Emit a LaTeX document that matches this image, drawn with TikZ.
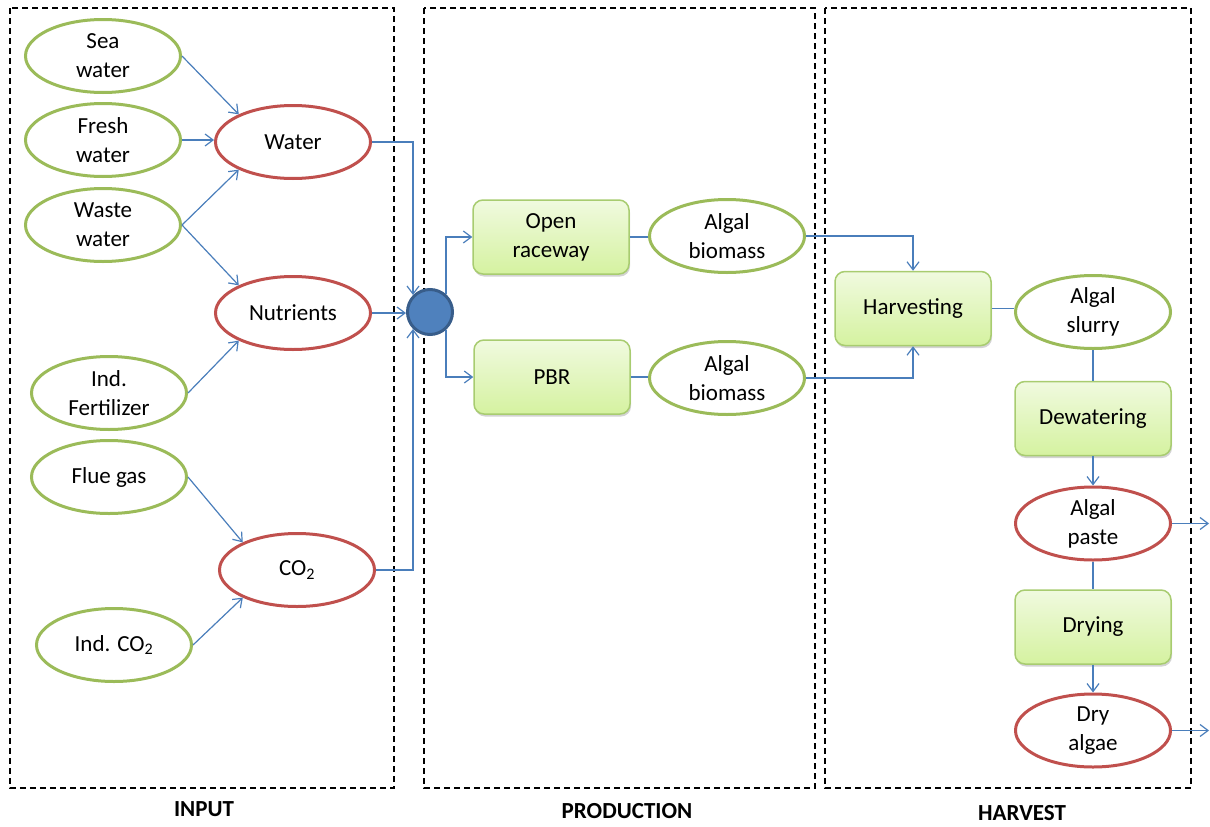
\documentclass[tikz,border=0pt]{standalone}
\usepackage{fontspec}
\setmainfont{Carlito}
\usetikzlibrary{shapes.geometric,arrows.meta,shadows}
\definecolor{grn}{HTML}{9BBB59}
\definecolor{rd}{HTML}{C0504D}
\definecolor{conn}{HTML}{4A7EBB}
\definecolor{bluefill}{HTML}{4F81BD}
\definecolor{blueedge}{HTML}{385D8A}
\definecolor{boxtop}{HTML}{F0FADF}
\definecolor{boxbot}{HTML}{D5F2A0}
\definecolor{boxedge}{HTML}{A8CC70}
\begin{document}
\begin{tikzpicture}[x=1pt,y=-1pt,
 every node/.style={font=\fontsize{23}{29}\selectfont, align=center},
 src/.style={ellipse, draw=grn, line width=3pt, minimum width=155pt, minimum height=73pt, inner sep=0pt, fill=white},
 prod/.style={src, draw=rd},
 proc/.style={rectangle, rounded corners=10pt, draw=boxedge, line width=1.5pt, top color=boxtop, bottom color=boxbot, minimum width=156pt, minimum height=74pt, inner sep=0pt, drop shadow={shadow xshift=1pt, shadow yshift=-2.5pt, opacity=0.35}},
 hub/.style={circle, fill=bluefill, draw=blueedge, line width=3pt, minimum size=45pt, inner sep=0pt},
 frame/.style={draw=black, line width=1.5pt, dash pattern=on 6pt off 4pt},
 lbl/.style={font=\fontsize{23}{29}\selectfont\bfseries},
 flow/.style={draw=conn, line width=1.2pt},
 arr/.style={flow, -{Straight Barb[length=8pt,width=12pt]}}
]
\useasboundingbox (0,0) rectangle (1210,827);

% frames
\draw[frame] (10,8) rectangle (394,788);
\draw[frame] (424,8) rectangle (815,788);
\draw[frame] (825,8) rectangle (1191,788);
\node[lbl] (linput) at (204,809) {INPUT};
\node[lbl] (lprod) at (627,811) {PRODUCTION};
\node[lbl] (lharv) at (1022,813) {HARVEST};

% input sources
\node[src] (sea) at (103,56) {Sea\\water};
\node[src] (fresh) at (103,140) {Fresh\\water};
\node[src] (waste) at (103,225) {Waste\\water};
\node[src] (fert) at (109,393) {Ind.\\Fertilizer};
\node[src] (flue) at (109,477) {Flue gas};
\node[src] (indco) at (114,645) {Ind. CO\textsubscript{2}};

\node[prod] (water) at (293,142) {Water};
\node[prod] (nutr) at (293,313) {Nutrients};
\node[prod] (co) at (297,570) {CO\textsubscript{2}};

\node[hub] (hub) at (430,312) {};

% production
\node[proc] (open) at (551,237) {Open\\raceway};
\node[proc] (pbr) at (552,377) {PBR};
\node[src] (bioA) at (727,236) {Algal\\biomass};
\node[src] (bioB) at (727,378) {Algal\\biomass};

% harvest
\node[proc] (harv) at (913,308.5) {Harvesting};
\node[src] (slurry) at (1093,312) {Algal\\slurry};
\node[proc] (dew) at (1093,418.5) {Dewatering};
\node[prod] (paste) at (1093,523.5) {Algal\\paste};
\node[proc] (dryb) at (1093,627) {Drying};
\node[prod] (dryalg) at (1093,730.5) {Dry\\algae};

\coordinate (outA) at (1209,522);
\coordinate (outB) at (1209,731);

% connectors
\draw[arr] (sea.east) -- (water.153);
\draw[arr] (fresh.east) -- (fresh.east -| water.west);
\draw[arr] (waste.east) -- (water.207);
\draw[arr] (waste.east) -- (nutr.153);
\draw[arr] (fert.east) -- (nutr.207);
\draw[arr] (flue.east) -- (co.153);
\draw[arr] (indco.east) -- (co.207);

\draw[arr] (water.east) -| (hub.135);
\draw[arr] (nutr.east) -- (nutr.east -| hub.west);
\draw[arr] (co.east) -| (hub.225);

\draw[arr] (hub.48) |- (open.west);
\draw[arr] (hub.-48) |- (pbr.west);
\draw[flow] (open.east) -- (open.east -| bioA.west);
\draw[flow] (pbr.east) -- (pbr.east -| bioB.west);

\draw[arr] (bioA.east) -| (harv.north);
\draw[arr] (bioB.east) -| (harv.south);
\draw[flow] (harv.east) -- (harv.east -| slurry.west);
\draw[flow] (slurry.south) -- (dew.north);
\draw[arr] (dew.south) -- (paste.north);
\draw[flow] (paste.south) -- (dryb.north);
\draw[arr] (dryb.south) -- (dryalg.north);
\draw[arr] (paste.east) -- (paste.east -| outA);
\draw[arr] (dryalg.east) -- (dryalg.east -| outB);
\end{tikzpicture}
\end{document}
